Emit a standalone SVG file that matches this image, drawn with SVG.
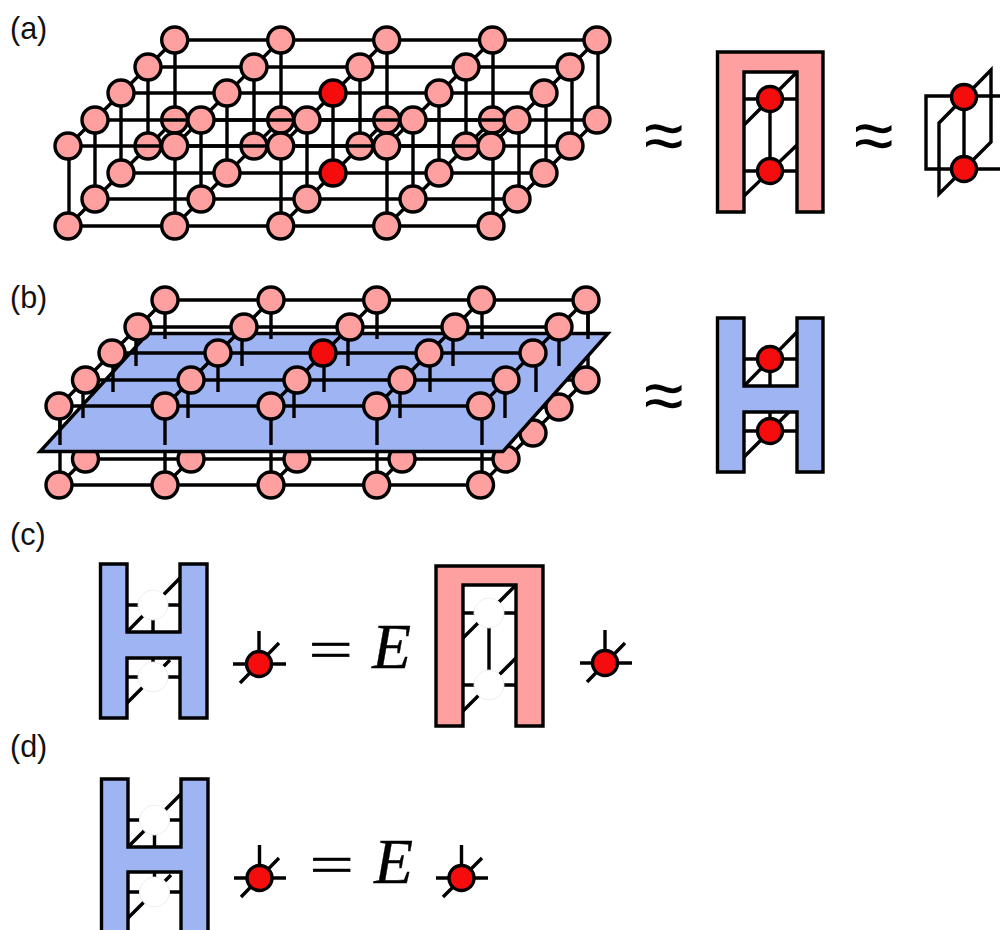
<svg xmlns="http://www.w3.org/2000/svg" width="1000" height="930" viewBox="0 0 1000 930">
<style>
.l{stroke:#000;stroke-width:3.4;fill:none}
.n{fill:#ffa0a0;stroke:#000;stroke-width:3.4}
.r{fill:#f50d0d;stroke:#000;stroke-width:3.4}
.p{fill:#ffa0a0;stroke:#000;stroke-width:3.4}
.b{fill:#9fb4f3;stroke:#000;stroke-width:3.4}
.g{fill:#fff;stroke:#eee;stroke-width:1}
.t{font-family:"Liberation Sans",Arial,sans-serif;font-size:30.5px;fill:#111}
.a{font-family:"Liberation Sans",Arial,sans-serif;font-size:72px;fill:#000}
.e{font-family:"Liberation Serif","Times New Roman",serif;font-size:64px;font-style:italic;fill:#000;stroke:#000;stroke-width:.3}
.q{font-family:"Liberation Serif","Times New Roman",serif;font-size:78px;fill:#000;stroke:#000;stroke-width:1}
</style>
<text class="t" x="10" y="39">(a)</text>
<text class="t" x="10" y="308">(b)</text>
<text class="t" x="10" y="545">(c)</text>
<text class="t" x="10" y="757">(d)</text>

<g id="connectors-a-lower">
<path class="l" d="M174.7 120H597M148 146H570M121 173H544M95 199H517M68 226H491"/>
<path class="l" d="M68 226L174.7 120M174.7 226L280.7 120M280.7 226L386.7 120M386.7 226L492.5 120M491 226L597 120"/>
</g>
<g id="a-lower-nodes">
<g id="a-l-0-4"><circle class="n" cx="174.7" cy="120" r="13"/></g>
<g id="a-l-1-4"><circle class="n" cx="280.7" cy="120" r="13"/></g>
<g id="a-l-2-4"><circle class="n" cx="386.7" cy="120" r="13"/></g>
<g id="a-l-3-4"><circle class="n" cx="492.5" cy="120" r="13"/></g>
<g id="a-l-4-4"><circle class="n" cx="597" cy="120" r="13"/></g>
<g id="a-l-0-3"><circle class="n" cx="148" cy="146" r="13"/></g>
<g id="a-l-1-3"><circle class="n" cx="254" cy="146" r="13"/></g>
<g id="a-l-2-3"><circle class="n" cx="360" cy="146" r="13"/></g>
<g id="a-l-3-3"><circle class="n" cx="466" cy="146" r="13"/></g>
<g id="a-l-4-3"><circle class="n" cx="570" cy="146" r="13"/></g>
<g id="a-l-0-2"><circle class="n" cx="121" cy="173" r="13"/></g>
<g id="a-l-1-2"><circle class="n" cx="227" cy="173" r="13"/></g>
<g id="a-l-2-2"><circle class="r" cx="333" cy="173" r="13"/></g>
<g id="a-l-3-2"><circle class="n" cx="439" cy="173" r="13"/></g>
<g id="a-l-4-2"><circle class="n" cx="544" cy="173" r="13"/></g>
<g id="a-l-0-1"><circle class="n" cx="95" cy="199" r="13"/></g>
<g id="a-l-1-1"><circle class="n" cx="201" cy="199" r="13"/></g>
<g id="a-l-2-1"><circle class="n" cx="307" cy="199" r="13"/></g>
<g id="a-l-3-1"><circle class="n" cx="413" cy="199" r="13"/></g>
<g id="a-l-4-1"><circle class="n" cx="517" cy="199" r="13"/></g>
<g id="a-l-0-0"><circle class="n" cx="68" cy="226" r="13"/></g>
<g id="a-l-1-0"><circle class="n" cx="174.7" cy="226" r="13"/></g>
<g id="a-l-2-0"><circle class="n" cx="280.7" cy="226" r="13"/></g>
<g id="a-l-3-0"><circle class="n" cx="386.7" cy="226" r="13"/></g>
<g id="a-l-4-0"><circle class="n" cx="491" cy="226" r="13"/></g>
</g>
<g id="connectors-a-upper">
<path class="l" d="M175 40V107M281 40V107M387 40V107M493 40V107M598 40V107M148 67V133M254 67V133M360 67V133M466 67V133M572 67V133M121 93V160M227 93V160M333 93V160M439 93V160M546 93V160M95 120V186M201 120V186M307 120V186M413 120V186M519 120V186M69 146V213M175 146V213M281 146V213M387 146V213M493 146V213"/>
<path class="l" d="M174.7 40H597M148 67H570M121 93H544M95 120H517M68 146H491"/>
<path class="l" d="M68 146L174.7 40M174.7 146L280.7 40M280.7 146L386.7 40M386.7 146L492.5 40M491 146L597 40"/>
</g>
<g id="a-upper-nodes">
<g id="a-u-0-4"><circle class="n" cx="174.7" cy="40" r="13"/></g>
<g id="a-u-1-4"><circle class="n" cx="280.7" cy="40" r="13"/></g>
<g id="a-u-2-4"><circle class="n" cx="386.7" cy="40" r="13"/></g>
<g id="a-u-3-4"><circle class="n" cx="492.5" cy="40" r="13"/></g>
<g id="a-u-4-4"><circle class="n" cx="597" cy="40" r="13"/></g>
<g id="a-u-0-3"><circle class="n" cx="148" cy="67" r="13"/></g>
<g id="a-u-1-3"><circle class="n" cx="254" cy="67" r="13"/></g>
<g id="a-u-2-3"><circle class="n" cx="360" cy="67" r="13"/></g>
<g id="a-u-3-3"><circle class="n" cx="466" cy="67" r="13"/></g>
<g id="a-u-4-3"><circle class="n" cx="570" cy="67" r="13"/></g>
<g id="a-u-0-2"><circle class="n" cx="121" cy="93" r="13"/></g>
<g id="a-u-1-2"><circle class="n" cx="227" cy="93" r="13"/></g>
<g id="a-u-2-2"><circle class="r" cx="333" cy="93" r="13"/></g>
<g id="a-u-3-2"><circle class="n" cx="439" cy="93" r="13"/></g>
<g id="a-u-4-2"><circle class="n" cx="544" cy="93" r="13"/></g>
<g id="a-u-0-1"><circle class="n" cx="95" cy="120" r="13"/></g>
<g id="a-u-1-1"><circle class="n" cx="201" cy="120" r="13"/></g>
<g id="a-u-2-1"><circle class="n" cx="307" cy="120" r="13"/></g>
<g id="a-u-3-1"><circle class="n" cx="413" cy="120" r="13"/></g>
<g id="a-u-4-1"><circle class="n" cx="517" cy="120" r="13"/></g>
<g id="a-u-0-0"><circle class="n" cx="68" cy="146" r="13"/></g>
<g id="a-u-1-0"><circle class="n" cx="174.7" cy="146" r="13"/></g>
<g id="a-u-2-0"><circle class="n" cx="280.7" cy="146" r="13"/></g>
<g id="a-u-3-0"><circle class="n" cx="386.7" cy="146" r="13"/></g>
<g id="a-u-4-0"><circle class="n" cx="491" cy="146" r="13"/></g>
</g>

<text class="a" x="644" y="160">≈</text>
<g id="a-pi">
<path class="p" d="M717.5 52H823V212H797V72H744V212H717.5Z"/>
<path class="l" d="M744 99H797M744 171H797M770 99V171M744 125L797 72M744 196L797 145"/>
<circle class="r" cx="770" cy="99" r="12.5"/>
<circle class="r" cx="770" cy="171" r="12.5"/>
</g>
<text class="a" x="854" y="160">≈</text>
<g id="a-frame">
<path class="l" d="M1000 96H926V169H1000"/>
<path class="l" d="M939 123L991 70V142L939 194Z"/>
<path class="l" d="M964 97V169"/>
<circle class="r" cx="964" cy="97" r="12.5"/>
<circle class="r" cx="964" cy="169" r="12.5"/>
</g>

<g id="connectors-b-lower">
<path class="l" d="M165 380H586M138 407H559M112 433H533M85.5 459H506M59 485H480.5"/>
<path class="l" d="M59 485L165 380M165 485L271 380M271 485L376.7 380M376.7 485L481.5 380M480.5 485L586 380"/>
<path class="l" d="M60 406V485M165 406V485M271 406V485M377 406V485M482 406V485M588 300V380"/>
</g>
<g id="b-lower-nodes">
<g id="b-l-4-4"><circle class="n" cx="586" cy="380" r="13"/></g>
<g id="b-l-4-3"><circle class="n" cx="559" cy="407" r="13"/></g>
<g id="b-l-4-2"><circle class="n" cx="533" cy="433" r="13"/></g>
<g id="b-l-0-1"><circle class="n" cx="85.5" cy="459" r="13"/></g>
<g id="b-l-1-1"><circle class="n" cx="191" cy="459" r="13"/></g>
<g id="b-l-2-1"><circle class="n" cx="297" cy="459" r="13"/></g>
<g id="b-l-3-1"><circle class="n" cx="402" cy="459" r="13"/></g>
<g id="b-l-4-1"><circle class="n" cx="506" cy="459" r="13"/></g>
<g id="b-l-0-0"><circle class="n" cx="59" cy="485" r="13"/></g>
<g id="b-l-1-0"><circle class="n" cx="165" cy="485" r="13"/></g>
<g id="b-l-2-0"><circle class="n" cx="271" cy="485" r="13"/></g>
<g id="b-l-3-0"><circle class="n" cx="376.7" cy="485" r="13"/></g>
<g id="b-l-4-0"><circle class="n" cx="480.5" cy="485" r="13"/></g>
</g>
<polygon id="plane" class="b" points="40,451.500 503,451.500 608,333.500 148,333.500"/>
<g id="connectors-b-upper">
<path class="l" d="M165 300V339M271 300V339M377 300V339M482 300V339M588 300V339M136 327V366M242 327V366M348 327V366M453 327V366M559 327V366M113 353V392M218 353V392M324 353V392M430 353V392M536 353V392M83 380V418M188 380V418M294 380V418M400 380V418M505 380V418M60 406V445M165 406V445M271 406V445M377 406V445M482 406V445"/>
<path class="l" d="M165 300H586M138 327H559M112 353H533M85.5 380H506M59 406H480.5"/>
<path class="l" d="M59 406L165 300M165 406L271 300M271 406L376.7 300M376.7 406L481.500 300M480.5 406L586 300"/>
</g>
<g id="b-upper-nodes">
<g id="b-u-0-4"><circle class="n" cx="165" cy="300" r="13"/></g>
<g id="b-u-1-4"><circle class="n" cx="271" cy="300" r="13"/></g>
<g id="b-u-2-4"><circle class="n" cx="376.700" cy="300" r="13"/></g>
<g id="b-u-3-4"><circle class="n" cx="481.500" cy="300" r="13"/></g>
<g id="b-u-4-4"><circle class="n" cx="586" cy="300" r="13"/></g>
<g id="b-u-0-3"><circle class="n" cx="138" cy="327" r="13"/></g>
<g id="b-u-1-3"><circle class="n" cx="244" cy="327" r="13"/></g>
<g id="b-u-2-3"><circle class="n" cx="350" cy="327" r="13"/></g>
<g id="b-u-3-3"><circle class="n" cx="455" cy="327" r="13"/></g>
<g id="b-u-4-3"><circle class="n" cx="559" cy="327" r="13"/></g>
<g id="b-u-0-2"><circle class="n" cx="112" cy="353" r="13"/></g>
<g id="b-u-1-2"><circle class="n" cx="218" cy="353" r="13"/></g>
<g id="b-u-2-2"><circle class="r" cx="323" cy="353" r="13"/></g>
<g id="b-u-3-2"><circle class="n" cx="429" cy="353" r="13"/></g>
<g id="b-u-4-2"><circle class="n" cx="533" cy="353" r="13"/></g>
<g id="b-u-0-1"><circle class="n" cx="85.5" cy="380" r="13"/></g>
<g id="b-u-1-1"><circle class="n" cx="191" cy="380" r="13"/></g>
<g id="b-u-2-1"><circle class="n" cx="297" cy="380" r="13"/></g>
<g id="b-u-3-1"><circle class="n" cx="402" cy="380" r="13"/></g>
<g id="b-u-4-1"><circle class="n" cx="506" cy="380" r="13"/></g>
<g id="b-u-0-0"><circle class="n" cx="59" cy="406" r="13"/></g>
<g id="b-u-1-0"><circle class="n" cx="165" cy="406" r="13"/></g>
<g id="b-u-2-0"><circle class="n" cx="271" cy="406" r="13"/></g>
<g id="b-u-3-0"><circle class="n" cx="376.7" cy="406" r="13"/></g>
<g id="b-u-4-0"><circle class="n" cx="480.5" cy="406" r="13"/></g>
</g>

<text class="a" x="644" y="420">≈</text>
<g id="b-h">
<path class="l" d="M744 359H797M744 431H797M770 359V386M770 412V431M744 386L797 332M744 457L789 412"/>
<path class="b" d="M717.5 318H744V386H797V318H823V472H797V412H744V472H717.5Z"/>
<circle class="r" cx="770" cy="359" r="12.500"/>
<circle class="r" cx="770" cy="431" r="12.500"/>
</g>

<g id="c-h">
<path class="l" d="M127 605H180M127 677H180M153 605V632M153 658V677M127 632L180 578M127 703L170 660"/>
<path class="b" d="M100.500 564H127V632H180V564H207V718H180V658H127V718H100.500Z"/>
<circle class="g" cx="153" cy="605" r="15"/>
<circle class="g" cx="153" cy="677" r="15"/>
</g>
<g id="c-star-1">
<path class="l" d="M233 664H286M259 631V664M240 683L279 643"/>
<circle class="r" cx="259" cy="664" r="12.500"/>
</g>
<text class="q" transform="translate(308.700 667.800) scale(1 .7)">=</text>
<text class="e" x="372" y="668">E</text>
<g id="c-pi">
<path class="l" d="M463 613H516M463 685H516M489 613V685M463 638L516 585M463 711L516 658"/>
<path class="p" d="M436 566H543V726H516V585H463V726H436Z"/>
<circle class="g" cx="489" cy="613" r="15"/>
<circle class="g" cx="489" cy="685" r="15"/>
</g>
<g id="c-star-2">
<path class="l" d="M580 663H632M605 630V663M587 682L625 643"/>
<circle class="r" cx="605" cy="663" r="12.500"/>
</g>

<g id="d-h">
<path class="l" d="M128 820H181M128 892H181M154.500 820V847M154.500 872V892M128 847L181 794M128 918L171 875"/>
<path class="b" d="M101.500 779H128V847H181V779H208V935H181V872H128V935H101.500Z"/>
<circle class="g" cx="154.500" cy="820" r="15"/>
<circle class="g" cx="154.500" cy="892" r="15"/>
</g>
<g id="d-star-1">
<path class="l" d="M234 878H286M259.500 845V878M241 897L279 858"/>
<circle class="r" cx="259.500" cy="878" r="12.500"/>
</g>
<text class="q" transform="translate(309.700 882.800) scale(1 .7)">=</text>
<text class="e" x="374" y="883">E</text>
<g id="d-star-2">
<path class="l" d="M436 878H488M461.500 845V878M443 897L482 858"/>
<circle class="r" cx="461.500" cy="878" r="12.500"/>
</g>
</svg>
